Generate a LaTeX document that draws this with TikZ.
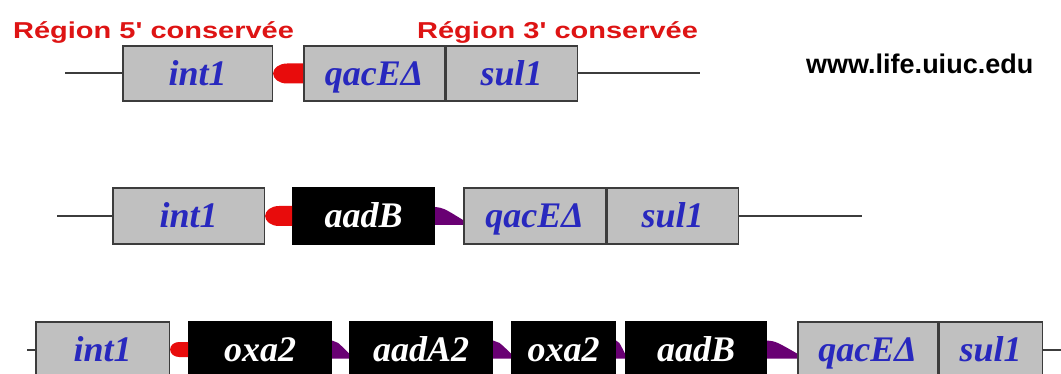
\documentclass[tikz,border=0pt]{standalone}
\usepackage{fontspec}
\usetikzlibrary{calc}

\newfontfamily\labelfont{Liberation Sans}
\newfontfamily\genefamily{Liberation Serif}

\definecolor{boxgrey}{RGB}{192,192,192}
\definecolor{geneblue}{RGB}{40,40,190}
\definecolor{attred}{RGB}{232,12,12}
\definecolor{attpurple}{RGB}{105,0,115}
\definecolor{dnagrey}{RGB}{60,60,60}
\definecolor{titlered}{RGB}{222,20,20}

\newcommand{\genefont}{\genefamily\fontsize{36}{36}\selectfont\bfseries\itshape}

% red attI site: rounded on the left, #3 = x radius, #4 = half height
\newcommand{\attI}[4]{%
  \fill[attred] ($(#2.west)+(0,#4)$) -- ($(#1.east)+(#3,#4)$)
    arc[start angle=90,end angle=270,x radius=#3,y radius=#4] -- ($(#2.west)+(0,-#4)$) -- cycle;}
% purple attC site: wedge between two cassettes
\newcommand{\attC}[2]{%
  \fill[attpurple] ($(#1.east)+(0,9pt)$)
    .. controls ($(#1.east)!0.3!(#2.west)+(0,8pt)$) .. ($(#2.west)+(0,-4pt)$)
    -- ($(#2.west)+(0,-9pt)$) -- ($(#1.east)+(0,-9pt)$) -- cycle;}

\begin{document}
\begin{tikzpicture}[x=1pt,y=-1pt]
        \tikzstyle{gene}=[draw=dnagrey,line width=1.6pt,fill=boxgrey,minimum height=55.5pt,
          inner sep=0pt,anchor=west,text height=24pt,text depth=0pt,font=\genefont,text=geneblue]
        \tikzstyle{cassette}=[gene,draw=black,fill=black,text=white]
        \tikzstyle{dna}=[draw=dnagrey,line width=2pt]
        \tikzstyle{title}=[anchor=base west,inner sep=0pt,text=titlered,
          font=\labelfont\fontsize{23}{23}\selectfont\bfseries]

        \useasboundingbox[fill=white] (0,0) rectangle (1061,374);

        \node[title](t5) at (13,39){\scalebox{1.26}[1]{Région 5' conservée}};
        \node[title](t3) at (417,39){\scalebox{1.26}[1]{Région 3' conservée}};
        \node[anchor=base west,inner sep=0pt,font=\labelfont\fontsize{27}{27}\selectfont\bfseries](web) at (806,74){www.life.uiuc.edu};

        % first row
        \coordinate (la) at (65,73.5);
        \node[gene,minimum width=149.5pt](ia) at (122,73.5){int1};
        \node[gene,minimum width=140.5pt](qa) at (303,73.5){qacEΔ};
        \node[gene,minimum width=131.5pt](sa) at (445,73.5){sul1};
        \coordinate (ra) at (700,73.5);

        % second row
        \coordinate (lb) at (57,216);
        \node[gene,minimum width=151.5pt](ib) at (112,216){int1};
        \node[cassette,minimum width=141.5pt](ab) at (292,216){aadB};
        \node[gene,minimum width=141.5pt](qb) at (463,216){qacEΔ};
        \node[gene,minimum width=131.5pt](sb) at (606,216){sul1};
        \coordinate (rb) at (862,216);

        % third row
        \coordinate (lc) at (27,349.5);
        \node[gene,minimum width=133.5pt](ic) at (35,349.5){int1};
        \node[cassette,minimum width=142.5pt](xc) at (188,349.5){oxa2};
        \node[cassette,minimum width=142.5pt](dc) at (349,349.5){aadA2};
        \node[cassette,minimum width=103.5pt](yc) at (511,349.5){oxa2};
        \node[cassette,minimum width=140.5pt](bc) at (625,349.5){aadB};
        \node[gene,minimum width=139.5pt](qc) at (797,349.5){qacEΔ};
        \node[gene,minimum width=103.5pt](sc) at (938,349.5){sul1};
        \coordinate (rc) at (1061,349.5);

        \draw[dna] (la) -- (ia);
        \draw[dna] (sa) -- (ra);
        \draw[dna] (lb) -- (ib);
        \draw[dna] (sb) -- (rb);
        \draw[dna] (lc) -- (ic);
        \draw[dna] (sc) -- (rc);

        \attI{ia}{qa}{14pt}{10pt}
        \attI{ib}{ab}{14pt}{10pt}
        \attC{ab}{qb}
        \attI{ic}{xc}{9pt}{7.5pt}
        \attC{xc}{dc}
        \attC{dc}{yc}
        \attC{yc}{bc}
        \attC{bc}{qc}

    \end{tikzpicture}
\end{document}
